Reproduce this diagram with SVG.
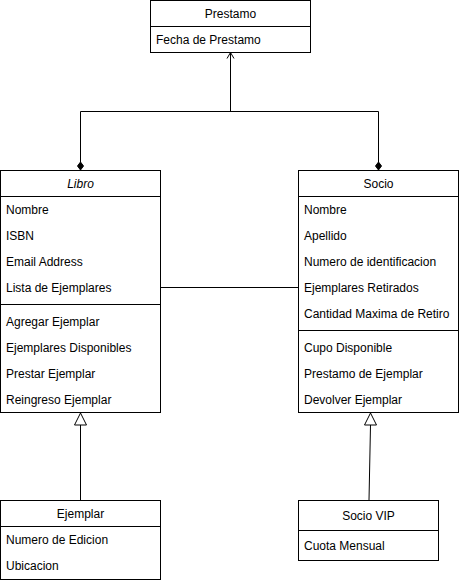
<svg xmlns="http://www.w3.org/2000/svg" width="459" height="582" viewBox="0 0 459 582">
<style>
.box{fill:#fff;stroke:#000;stroke-width:1}
.sep{stroke:#000;stroke-width:1}
.t{font-family:"Liberation Sans",Arial,sans-serif;font-size:12px;fill:#000}
.c{text-anchor:middle}
.i{font-style:italic}
.ln{fill:none;stroke:#000;stroke-width:1}
</style>
<rect width="459" height="582" fill="#fff"/>
<g id="connectors">
  <path class="ln" d="M80.5,162 V111.5 H378.5 V162"/>
  <path class="ln" d="M230.5,111.5 V53"/>
  <path class="ln" d="M227,58.5 L230.5,52.5 L234,58.5"/>
  <path d="M80.5,162 L83.5,166 L80.5,170 L77.5,166 Z" fill="#000" stroke="#000"/>
  <path d="M378.5,162 L381.5,166 L378.5,170 L375.5,166 Z" fill="#000" stroke="#000"/>
  <path class="ln" d="M160.5,287.5 H298.5"/>
  <path class="ln" d="M80.5,500 V425"/>
  <path d="M80.5,413 L86.5,425 L74.5,425 Z" fill="#fff" stroke="#000"/>
  <path class="ln" d="M369,500 L370.5,425"/>
  <path d="M370.5,413 L376.5,425 L364.5,425 Z" fill="#fff" stroke="#000"/>
</g>
<g id="prestamo">
  <rect class="box" x="150.5" y="0.5" width="160" height="52"/>
  <line class="sep" x1="150.5" y1="26.5" x2="310.5" y2="26.5"/>
  <text class="t c" x="230.5" y="18">Prestamo</text>
  <text class="t" x="156" y="44">Fecha de Prestamo</text>
</g>
<g id="libro">
  <rect class="box" x="0.5" y="170.5" width="160" height="242"/>
  <line class="sep" x1="0.5" y1="196.5" x2="160.5" y2="196.5"/>
  <line class="sep" x1="0.5" y1="304.5" x2="160.5" y2="304.5"/>
  <text class="t c i" x="80.5" y="188">Libro</text>
  <text class="t" x="6" y="214">Nombre</text>
  <text class="t" x="6" y="240">ISBN</text>
  <text class="t" x="6" y="266">Email Address</text>
  <text class="t" x="6" y="292">Lista de Ejemplares</text>
  <text class="t" x="6" y="326">Agregar Ejemplar</text>
  <text class="t" x="6" y="352">Ejemplares Disponibles</text>
  <text class="t" x="6" y="378">Prestar Ejemplar</text>
  <text class="t" x="6" y="404">Reingreso Ejemplar</text>
</g>
<g id="socio">
  <rect class="box" x="298.5" y="170.5" width="160" height="242"/>
  <line class="sep" x1="298.5" y1="196.5" x2="458.5" y2="196.5"/>
  <line class="sep" x1="298.5" y1="330.5" x2="458.5" y2="330.5"/>
  <text class="t c" x="378.5" y="188">Socio</text>
  <text class="t" x="304" y="214">Nombre</text>
  <text class="t" x="304" y="240">Apellido</text>
  <text class="t" x="304" y="266">Numero de identificacion</text>
  <text class="t" x="304" y="292">Ejemplares Retirados</text>
  <text class="t" x="304" y="318">Cantidad Maxima de Retiro</text>
  <text class="t" x="304" y="352">Cupo Disponible</text>
  <text class="t" x="304" y="378">Prestamo de Ejemplar</text>
  <text class="t" x="304" y="404">Devolver Ejemplar</text>
</g>
<g id="ejemplar">
  <rect class="box" x="0.5" y="500.5" width="160" height="79"/>
  <line class="sep" x1="0.5" y1="526.5" x2="160.5" y2="526.5"/>
  <text class="t c" x="80.5" y="518">Ejemplar</text>
  <text class="t" x="6" y="544">Numero de Edicion</text>
  <text class="t" x="6" y="570">Ubicacion</text>
</g>
<g id="sociovip">
  <rect class="box" x="298.5" y="500.5" width="140" height="60"/>
  <line class="sep" x1="298.5" y1="530.5" x2="438.5" y2="530.5"/>
  <text class="t c" x="368.5" y="520">Socio VIP</text>
  <text class="t" x="304" y="550">Cuota Mensual</text>
</g>
</svg>
